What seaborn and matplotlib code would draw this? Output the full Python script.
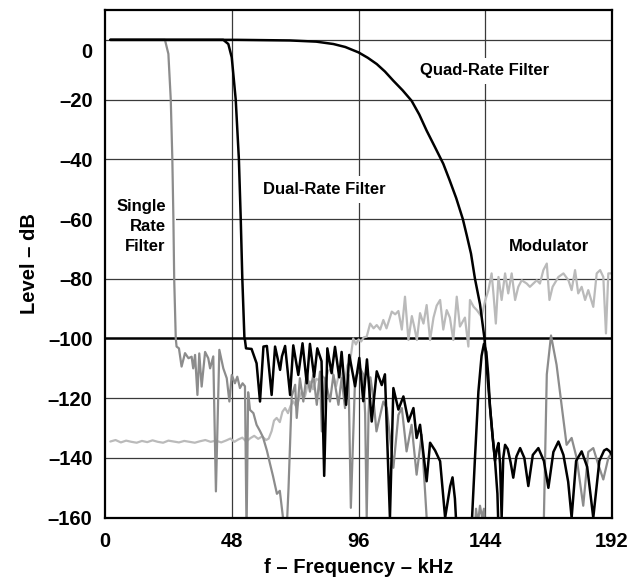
import matplotlib.pyplot as plt
import numpy as np
import pandas as pd
import seaborn as sns
from matplotlib.transforms import ScaledTranslation

# ---- values (kHz, dB) ----
single_khz = [2, 10, 18, 22.7, 24.0, 24.9, 25.5, 25.9, 26.2, 26.8, 27.1, 28.0, 29.0,
              30.3, 31.6, 32.8, 33.4, 34.1, 35.0, 35.7, 36.6, 37.9, 39.1, 39.8, 41.0,
              42.0, 43.3, 44.8, 46.1, 47.1, 48.0, 49.2, 50.1, 51.1, 52.1, 53.0, 53.6,
              54.2, 54.9, 56.2, 57.4, 58.7, 59.8, 61.3, 62.5, 63.6, 65.1, 66.2, 67.4, 68.0]
single_db = [0, 0, 0, 0, -4.7, -20, -40, -60, -80, -100, -102.7, -103.3, -109.4,
             -104.9, -106.6, -106.1, -110, -105.5, -118.9, -105.0, -116.1, -104.5, -106.6, -110, -106.0,
             -151.2, -103.8, -110, -113.3, -121.1, -112.2, -115, -112.8, -116.6, -115, -116, -165,
             -118, -123.9, -125, -128.9, -131, -133, -137.5, -142, -146, -152, -151, -160, -170]

dual_khz = [2, 20, 40, 44.8, 46.7, 48.0, 49.5, 50.7, 51.4, 52.0, 52.8,
            53.0, 53.4, 55.5, 57.4, 58.7, 60.0, 61.3, 63.1, 64.4, 66.3, 67.0, 68.2,
            70.1, 71.3, 73.2, 74.8, 76.4, 77.6, 79.2, 80.4, 82.0, 83.0, 84.2, 85.8,
            87.1, 88.7, 89.6, 91.3, 92.5, 94.7, 96.3, 97.8, 99.2, 101.0, 102.9, 104.8,
            106.0, 107.9, 109.2, 111.1, 113.0, 114.9, 116.8, 118.0, 119.3, 121.8, 123.1,
            125.0, 126.9, 128.8, 130.7, 131.6, 132.5, 133.2]
dual_db = [0, 0, 0, 0, -1.4, -5.9, -20, -40, -60, -80, -100,
           -100.5, -103.3, -103.5, -108.3, -121.1, -102.7, -102.5, -118.9, -102.7, -110.5, -106, -102.5,
           -118.9, -102.3, -112.2, -101.6, -115, -101.8, -112.8, -103.3, -107.6, -146, -103.3, -111.6,
           -102.8, -113, -104.5, -122.2, -105.5, -116, -106.5, -121, -107, -127.8, -111, -115.6,
           -112, -160, -116.6, -123.8, -119.4, -127.8, -123.3, -133.3, -128.9, -147.8, -134.9,
           -137.5, -141.1, -160, -149.5, -146.5, -153.6, -165]

lobe_khz = [138.6, 139.0, 140.1, 141.4, 142.6, 143.5, 144.4, 145.1, 145.8, 146.8, 147.7, 148.6, 149.2]
lobe_db = [-170, -160, -140, -117.8, -105.8, -101.8, -104.5, -112, -123, -133, -141, -152, -170]

quad_khz = [2, 50, 60, 70, 80, 86.5, 91, 96, 99.5, 102.9, 106, 109.2, 112.7, 116.1,
            119, 121.8, 125, 128.1, 130.5, 133, 135.5, 137, 138.6, 140.1, 142.0, 143.7,
            144.6, 145.8, 146.8, 147.7,
            148.4, 149.0, 149.6, 150.2, 150.8, 151.5, 152.5, 153.6, 154.6, 155.8, 157.2,
            158.8, 160.3, 162.0, 164.1, 166.2, 167.9, 169.8, 171.7, 173.6, 175.4, 176.7,
            178.4, 180.5, 182.6, 184.9, 187.2, 189.0, 190.0, 191.0, 192.0]
quad_db = [0, 0, -0.1, -0.2, -0.6, -1.4, -2.4, -4.2, -6, -8.1, -10.6, -13.7, -16.9, -20.4,
           -25, -30.4, -36, -41.5, -47, -53, -60, -65.5, -71.6, -80, -88.5, -100,
           -110, -123, -133, -141,
           -137, -135, -142, -160, -140, -135.6, -137, -141.5, -146.6, -139.5, -136.7,
           -140, -149.4, -139, -136.7, -141, -150, -138, -134.5, -139, -148, -160,
           -141, -137.8, -143, -160, -141, -137.5, -137, -137.7, -139]

image_khz = [68.5, 69.5, 70.7, 72.0, 72.6, 73.8, 75.1, 76.4, 77.6, 78.9, 80.2, 81.4,
             82.1, 83.3, 85.2, 86.5, 88.4, 89.6, 90.9, 92.2, 93.1, 94.7, 96.6, 97.8,
             98.5, 99.1, 99.8, 100.5, 101.6, 102.8, 105.4, 106.7, 109.2, 111.1, 112.4,
             114.2, 116.1, 118.0, 119.9, 121.8, 122.2, 139.6, 140.5, 141.2, 142.0,
             142.8, 143.5, 144.5, 165.7, 166.2, 167.3, 168.9, 171.0, 173.0, 174.8,
             176.7, 178.6, 181.1, 183.0, 184.9, 186.8, 188.7, 190.6, 192.0]
image_db = [-170, -150, -119.4, -115.5, -126.6, -113.3, -121.1, -111.6, -117.8, -112.2, -122.2, -111.1,
            -131.1, -113.3, -121.1, -112.2, -122.2, -113.3, -123.3, -112.2, -156.7, -113.3, -110, -112,
            -125, -160, -125, -113, -120, -131.1, -121.1, -123.3, -143.3, -125.6, -123.3,
            -137.8, -128.9, -145.6, -132.2, -160, -175, -175, -157, -162, -156,
            -160, -157, -175, -175, -160, -112, -99, -108.8, -123, -135.6,
            -133.3, -140, -156, -138, -136.7, -142.2, -147.2, -140, -138]

mod_khz = [2, 4, 6, 8, 10, 12, 14, 16, 18, 20, 22, 24, 26, 28, 30, 32, 34, 36, 38, 40,
           42, 44, 46, 47.5, 49, 50.5, 52, 53.5, 55, 56.5, 58, 59.5, 61, 62, 63.1, 64, 65,
           66.2, 67.2, 68.2, 69.3, 70.3, 71.3, 72.5, 73.5, 74.5, 75.7, 76.6, 77.6, 78.8,
           80, 81, 82, 83.6, 84.5, 85.8, 87.5, 89, 90.5, 91.8, 92.8, 94, 95, 96, 97, 98,
           99.1, 100.4, 101.7, 102.9, 104.2, 105.4, 106.6, 108.6, 109.9, 111.1, 112.4,
           113.6, 114.9, 116.2, 117.1, 118.1, 119.3, 120.6, 121.8, 123.1, 124.4, 125.6,
           126.9, 128.1, 129.4, 130.6, 131.9, 133.2, 134.4, 136.3, 137.6, 138.2, 139.6,
           140.8, 142.6, 143.9, 145.2, 146.4, 147.1, 148.0, 149.0, 150.2, 151.5, 152.7,
           154.0, 155.3, 156.5, 157.8, 159.7, 160.9, 162.2, 163.5, 164.7, 166.0, 167.3,
           168.3, 169.5, 171.7, 173.6, 175.5, 176.7, 178.0, 179.2, 180.5, 181.8, 183.0,
           184.9, 186.2, 187.5, 188.7, 189.7, 190.6, 191.9]
mod_db = [-134.5, -134.0, -134.8, -134.2, -134.6, -134.9, -134.3, -134.7, -134.1, -134.6,
          -134.9, -134.2, -134.5, -134.8, -134.3, -134.6, -134.9, -134.4, -134.0, -134.6,
          -134.2, -134.8, -134.1, -133.5, -134.6, -133.8, -133.2, -134.5, -133.4, -132.6,
          -133.6, -132.8, -134.0, -133.5, -131, -127.5, -126.6, -128, -124.5, -123.3, -125,
          -122.5, -121, -123, -120, -117.8, -119.5, -116, -114.4, -117, -113.5, -114,
          -112.4, -113.5, -111, -110, -116, -110.5, -116, -109, -107.7, -100, -102, -100.3,
          -101, -99.6, -99.4, -95, -96.6, -95.5, -97, -93.8, -96.6, -91, -91.9, -90.8,
          -97, -86, -100.5, -92.5, -96, -100.5, -91.5, -95, -88.8, -100.5, -93, -89,
          -87.1, -97, -90.5, -93, -100.5, -86, -96, -93, -102.7, -87.1, -89.4,
          -90.5, -92.7, -87.5, -83.8, -78.2, -85, -95, -79.4, -87.1, -78.2, -84.9,
          -78.2, -87.1, -82.7, -80.5, -81.6, -82.7, -81.6, -80.5, -81.6, -77.1, -74.9,
          -87.1, -82.7, -79.4, -78.2, -80.5, -83.8, -77.1, -84.9, -82.7, -87.1, -83.8,
          -89.4, -78.2, -77.1, -79.4, -98.3, -78.2, -78.2]

x_ticks = [0, 48, 96, 144, 192]
y_ticks = [0, -20, -40, -60, -80, -100, -120, -140, -160]

sns.set_style("white")
plt.rcParams["font.family"] = ["Liberation Sans", "DejaVu Sans"]
plt.rcParams["font.weight"] = "bold"
plt.rcParams["axes.labelweight"] = "bold"
plt.rcParams["text.color"] = "black"
plt.rcParams["axes.labelcolor"] = "black"
plt.rcParams["xtick.color"] = "black"
plt.rcParams["ytick.color"] = "black"

fig = plt.figure(figsize=(6.36, 5.77), dpi=100)
ax = fig.add_axes([0.1651, 0.1028, 0.7972, 0.8799])

# grid
for xv in x_ticks[1:-1]:
    ax.axvline(xv, color="#3a3a3a", lw=0.9, zorder=1)
for yv in y_ticks[:-1]:
    if yv == -100:
        ax.axhline(yv, color="black", lw=1.8, zorder=1)
    else:
        ax.axhline(yv, color="#3a3a3a", lw=0.9, zorder=1)

curves = [
    (mod_khz, mod_db, "#bababa", 1.6, 3),
    (image_khz, image_db, "#8c8c8c", 1.6, 4),
    (single_khz, single_db, "#8c8c8c", 1.6, 4),
    (dual_khz, dual_db, "black", 1.8, 5),
    (lobe_khz, lobe_db, "black", 1.8, 5),
    (quad_khz, quad_db, "black", 1.8, 5),
]
for xs, ys, col, lw, z in curves:
    df = pd.DataFrame({"freq": xs, "level": ys})
    sns.lineplot(data=df, x="freq", y="level", color=col, lw=lw, sort=False,
                 estimator=None, ax=ax, zorder=z)

box = dict(boxstyle="square,pad=0.35", fc="white", ec="none")
ax.text(143.7, -10.4, "Quad-Rate Filter", ha="center", va="center", fontsize=12,
        fontweight="bold", bbox=box, zorder=2)
ax.text(83.2, -50.1, "Dual-Rate Filter", ha="center", va="center", fontsize=12,
        fontweight="bold", bbox=box, zorder=2)
ax.text(23.0, -62.4, "Single\nRate\nFilter", ha="right", va="center", fontsize=12,
        fontweight="bold", multialignment="right", linespacing=1.4,
        bbox=dict(boxstyle="square,pad=0.6", fc="white", ec="none"), zorder=2)
ax.text(168.3, -69.3, "Modulator", ha="center", va="center", fontsize=12,
        fontweight="bold", bbox=box, zorder=2)

ax.set_xlim(0, 192)
ax.set_ylim(-160, 10)
ax.set_xticks(x_ticks)
ax.set_yticks(y_ticks)
ax.set_yticklabels(["0", "\u201320", "\u201340", "\u201360", "\u201380", "\u2013100",
                    "\u2013120", "\u2013140", "\u2013160"])
ax.tick_params(axis="both", length=0, labelsize=14.5, labelcolor="black")
ax.tick_params(axis="x", pad=10)
ax.tick_params(axis="y", pad=9)
for lab in ax.get_xticklabels() + ax.get_yticklabels():
    lab.set_fontweight("bold")
# the 0 label sits a little low in the original
zero_lab = ax.get_yticklabels()[0]
zero_lab.set_transform(zero_lab.get_transform() + ScaledTranslation(0, -8 / 72, fig.dpi_scale_trans))

ax.set_xlabel("f \u2013 Frequency \u2013 kHz", fontsize=14.5, fontweight="bold", labelpad=5)
ax.set_ylabel("Level \u2013 dB", fontsize=14.5, fontweight="bold", labelpad=6)

for sp in ax.spines.values():
    sp.set_color("black")
    sp.set_linewidth(1.6)
    sp.set_zorder(6)

fig.savefig("out.png", dpi=100)
